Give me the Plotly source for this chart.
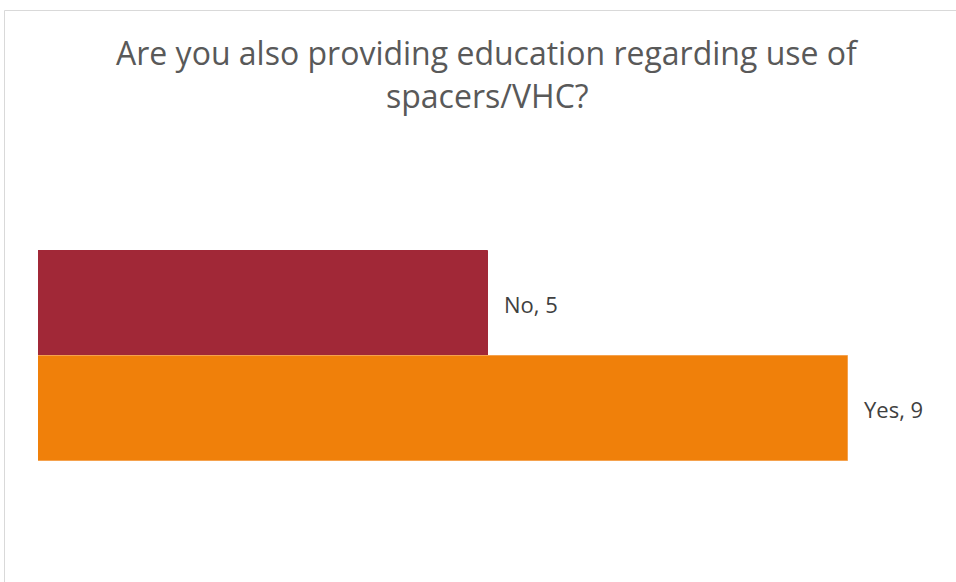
import plotly.graph_objects as go

# Survey answers and response counts
answers = ["No", "Yes"]
counts = [5, 9]
bar_colors = ["#A12837", "#F0800A"]
edge_colors = ["#A12837", "#F5A24E"]

title_lines = ["Are you also providing education regarding use of", "spacers/VHC?"]

W, H = 956, 582
ML, MR, MT, MB = 38, 18, 146, 16
PW, PH = W - ML - MR, H - MT - MB


def px_x(px):
    return (px - ML) / PW


def px_y(py):
    return (H - MB - py) / PH


fig = go.Figure(
    go.Bar(
        y=answers,
        x=counts,
        orientation="h",
        marker=dict(color=bar_colors, line=dict(color=edge_colors, width=1)),
        hoverinfo="skip",
    )
)

annotations = []
for a, c in zip(answers, counts):
    annotations.append(
        dict(
            x=c, y=a, xref="x", yref="y",
            text=f"{a}, {c}",
            showarrow=False, xanchor="left", yanchor="middle", xshift=14,
            font=dict(family="Open Sans", size=22, color="#404040"),
        )
    )

for text, py in zip(title_lines, [53, 95]):
    annotations.append(
        dict(
            x=px_x(487.5), y=px_y(py), xref="paper", yref="paper",
            text=text, showarrow=False, xanchor="center", yanchor="middle",
            font=dict(family="Open Sans", size=32, color="#595959"),
        )
    )

fig.update_layout(
    width=W, height=H,
    margin=dict(l=ML, r=MR, t=MT, b=MB),
    paper_bgcolor="white", plot_bgcolor="white",
    showlegend=False,
    bargap=0,
    xaxis=dict(range=[0, 10], visible=False, fixedrange=True),
    yaxis=dict(
        type="category", categoryorder="array", categoryarray=["Yes", "No"],
        range=[-1.5, 2.5], visible=False, fixedrange=True,
    ),
    annotations=annotations,
    shapes=[
        dict(
            type="rect", xref="paper", yref="paper",
            x0=px_x(4.5), x1=px_x(990), y0=px_y(600), y1=px_y(10.5),
            line=dict(color="#D9D9D9", width=1), fillcolor="rgba(0,0,0,0)",
            layer="below",
        )
    ],
)

fig.write_html("out.html", config={"displayModeBar": False})
